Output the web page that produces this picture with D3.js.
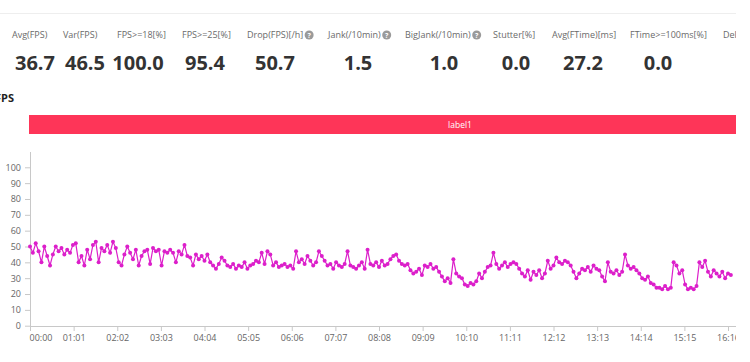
<!DOCTYPE html>
<html>
<head>
<meta charset="utf-8">
<script src="https://cdn.jsdelivr.net/npm/d3@7"></script>
<style>
  body { margin: 0; background: #fff; }
  svg { display: block; font-family: "Open Sans", "Noto Sans", sans-serif; }
</style>
</head>
<body>
<script>
// summary metrics shown above the chart
var metricNames = ["Avg(FPS)", "Var(FPS)", "FPS>=18[%]", "FPS>=25[%]", "Drop(FPS)[/h]", "Jank(/10min)",
                   "BigJank(/10min)", "Stutter[%]", "Avg(FTime)[ms]", "FTime>=100ms[%]", "Del"];
var metricValues = ["36.7", "46.5", "100.0", "95.4", "50.7", "1.5", "1.0", "0.0", "27.2", "0.0", ""];
var metricHelp = [false, false, false, false, true, true, true, false, false, false, false];

var labelName = "label1";
var yTicks = [0, 10, 20, 30, 40, 50, 60, 70, 80, 90, 100];
var xTickSeconds = [0, 61, 122, 183, 244, 305, 366, 427, 488, 549, 610, 671, 732, 793, 854, 915, 976];

// fps samples, one every 4 s
var sampleStep = 4;
var fps = [
  50, 46, 52, 47, 40, 50, 44, 38, 45, 50,
  47, 49, 45, 48, 46, 51, 52, 40, 44, 38,
  48, 42, 51, 53, 40, 49, 47, 51, 46, 53,
  49, 40, 38, 45, 50, 46, 42, 48, 38, 44,
  47, 48, 39, 49, 47, 48, 38, 47, 46, 48,
  46, 40, 47, 45, 51, 44, 43, 38, 45, 42,
  44, 41, 45, 40, 38, 36, 39, 43, 41, 38,
  37, 39, 36, 38, 37, 40, 36, 38, 39, 41,
  40, 46, 39, 47, 45, 38, 40, 37, 38, 39,
  37, 38, 36, 47, 40, 42, 39, 44, 41, 38,
  40, 47, 44, 41, 38, 39, 36, 40, 38, 37,
  39, 47, 38, 37, 36, 38, 40, 36, 48, 39,
  38, 40, 37, 41, 38, 39, 42, 44, 45, 41,
  39, 38, 39, 35, 33, 34, 36, 32, 38, 37,
  39, 36, 37, 34, 31, 28, 30, 27, 42, 33,
  31, 30, 26, 25, 27, 26, 28, 33, 30, 34,
  37, 38, 46, 39, 36, 38, 40, 37, 39, 40,
  39, 36, 33, 31, 35, 29, 34, 32, 35, 30,
  33, 41, 36, 38, 43, 40, 39, 41, 40, 38,
  34, 30, 33, 36, 35, 37, 34, 38, 36, 35,
  31, 28, 40, 34, 33, 35, 32, 34, 45, 38,
  36, 37, 35, 33, 30, 29, 31, 27, 26, 24,
  24, 23, 25, 23, 24, 40, 38, 33, 35, 26,
  23, 24, 23, 25, 40, 37, 41, 34, 31, 35,
  33, 31, 34, 30, 33, 32
];

var width = 736, height = 362;

var svg = d3.select("body")
    .append("svg")
    .attr("width", width)
    .attr("height", height);

// top divider
svg.append("line")
    .attr("x1", 0).attr("x2", width)
    .attr("y1", 13.5).attr("y2", 13.5)
    .attr("stroke", "#eeeeee");

var labelX = [12, 63, 117, 182, 247, 328, 405, 493, 552, 630, 723];
var valueX = [35, 85, 138, 205, 275, 358, 444, 516, 583, 658, 740];

for (var i = 0; i < metricNames.length; i++) {
    var t = svg.append("text")
        .attr("x", labelX[i])
        .attr("y", 38)
        .attr("font-size", 9)
        .attr("fill", "#6a6a6a")
        .text(metricNames[i]);
    if (metricHelp[i]) {
        var end = labelX[i] + t.node().getComputedTextLength() + 6;
        svg.append("circle")
            .attr("cx", end).attr("cy", 35)
            .attr("r", 4.5)
            .attr("fill", "#9a9a9a");
        svg.append("text")
            .attr("x", end).attr("y", 38)
            .attr("text-anchor", "middle")
            .attr("font-size", 7)
            .attr("font-weight", "bold")
            .attr("fill", "#fff")
            .text("?");
    }
    svg.append("text")
        .attr("x", valueX[i])
        .attr("y", 70)
        .attr("text-anchor", "middle")
        .attr("font-size", 20)
        .attr("font-weight", "bold")
        .attr("fill", "#333")
        .text(metricValues[i]);
}

svg.append("text")
    .attr("x", -5)
    .attr("y", 102)
    .attr("font-size", 11)
    .attr("font-weight", "bold")
    .attr("fill", "#222")
    .text("FPS");

// label band
svg.append("rect")
    .attr("x", 29).attr("y", 115)
    .attr("width", 862).attr("height", 19)
    .attr("fill", "#fe3558");
svg.append("text")
    .attr("x", 460).attr("y", 128)
    .attr("text-anchor", "middle")
    .attr("font-size", 8.5)
    .attr("fill", "#fff")
    .text(labelName);

var x = d3.scaleLinear().domain([0, 976]).range([30, 728]);
var y = d3.scaleLinear().domain([0, 100]).range([325.7, 167.3]);

function fmt(s) {
    var m = Math.floor(s / 60), r = s % 60;
    return (m < 10 ? "0" : "") + m + ":" + (r < 10 ? "0" : "") + r;
}

// y axis
var yAxis = svg.append("g")
    .attr("transform", "translate(30,0)")
    .call(d3.axisLeft(y).tickValues(yTicks).tickSize(5).tickPadding(4));
yAxis.select(".domain").attr("d", "M0.5,152V326");

// x axis
var xAxis = svg.append("g")
    .attr("transform", "translate(0,326)")
    .call(d3.axisBottom(x).tickValues(xTickSeconds).tickFormat(fmt).tickSize(5).tickPadding(4));
xAxis.select(".domain").attr("d", "M30,0.5H" + width);
xAxis.selectAll(".tick text").filter(function(d) { return d === 0; })
    .attr("text-anchor", "start").attr("dx", -1);

svg.selectAll(".domain, .tick line").attr("stroke", "#c8c8c8");
svg.selectAll(".tick text").attr("fill", "#666").attr("font-size", 9)
    .attr("font-family", "\"Open Sans\", \"Noto Sans\", sans-serif");

var pts = fps.map(function(v, k) { return {t: k * sampleStep, v: v}; });

var line = d3.line()
    .x(function(d) { return x(d.t); })
    .y(function(d) { return y(d.v); });

svg.append("path")
    .datum(pts)
    .attr("d", line)
    .attr("fill", "none")
    .attr("stroke", "#dc1fca")
    .attr("stroke-width", 1.2);

svg.selectAll("circle.pt")
    .data(pts)
    .enter()
    .append("circle")
    .attr("class", "pt")
    .attr("cx", function(d) { return x(d.t); })
    .attr("cy", function(d) { return y(d.v); })
    .attr("r", 2)
    .attr("fill", "#dc1fca");
</script>
</body>
</html>
